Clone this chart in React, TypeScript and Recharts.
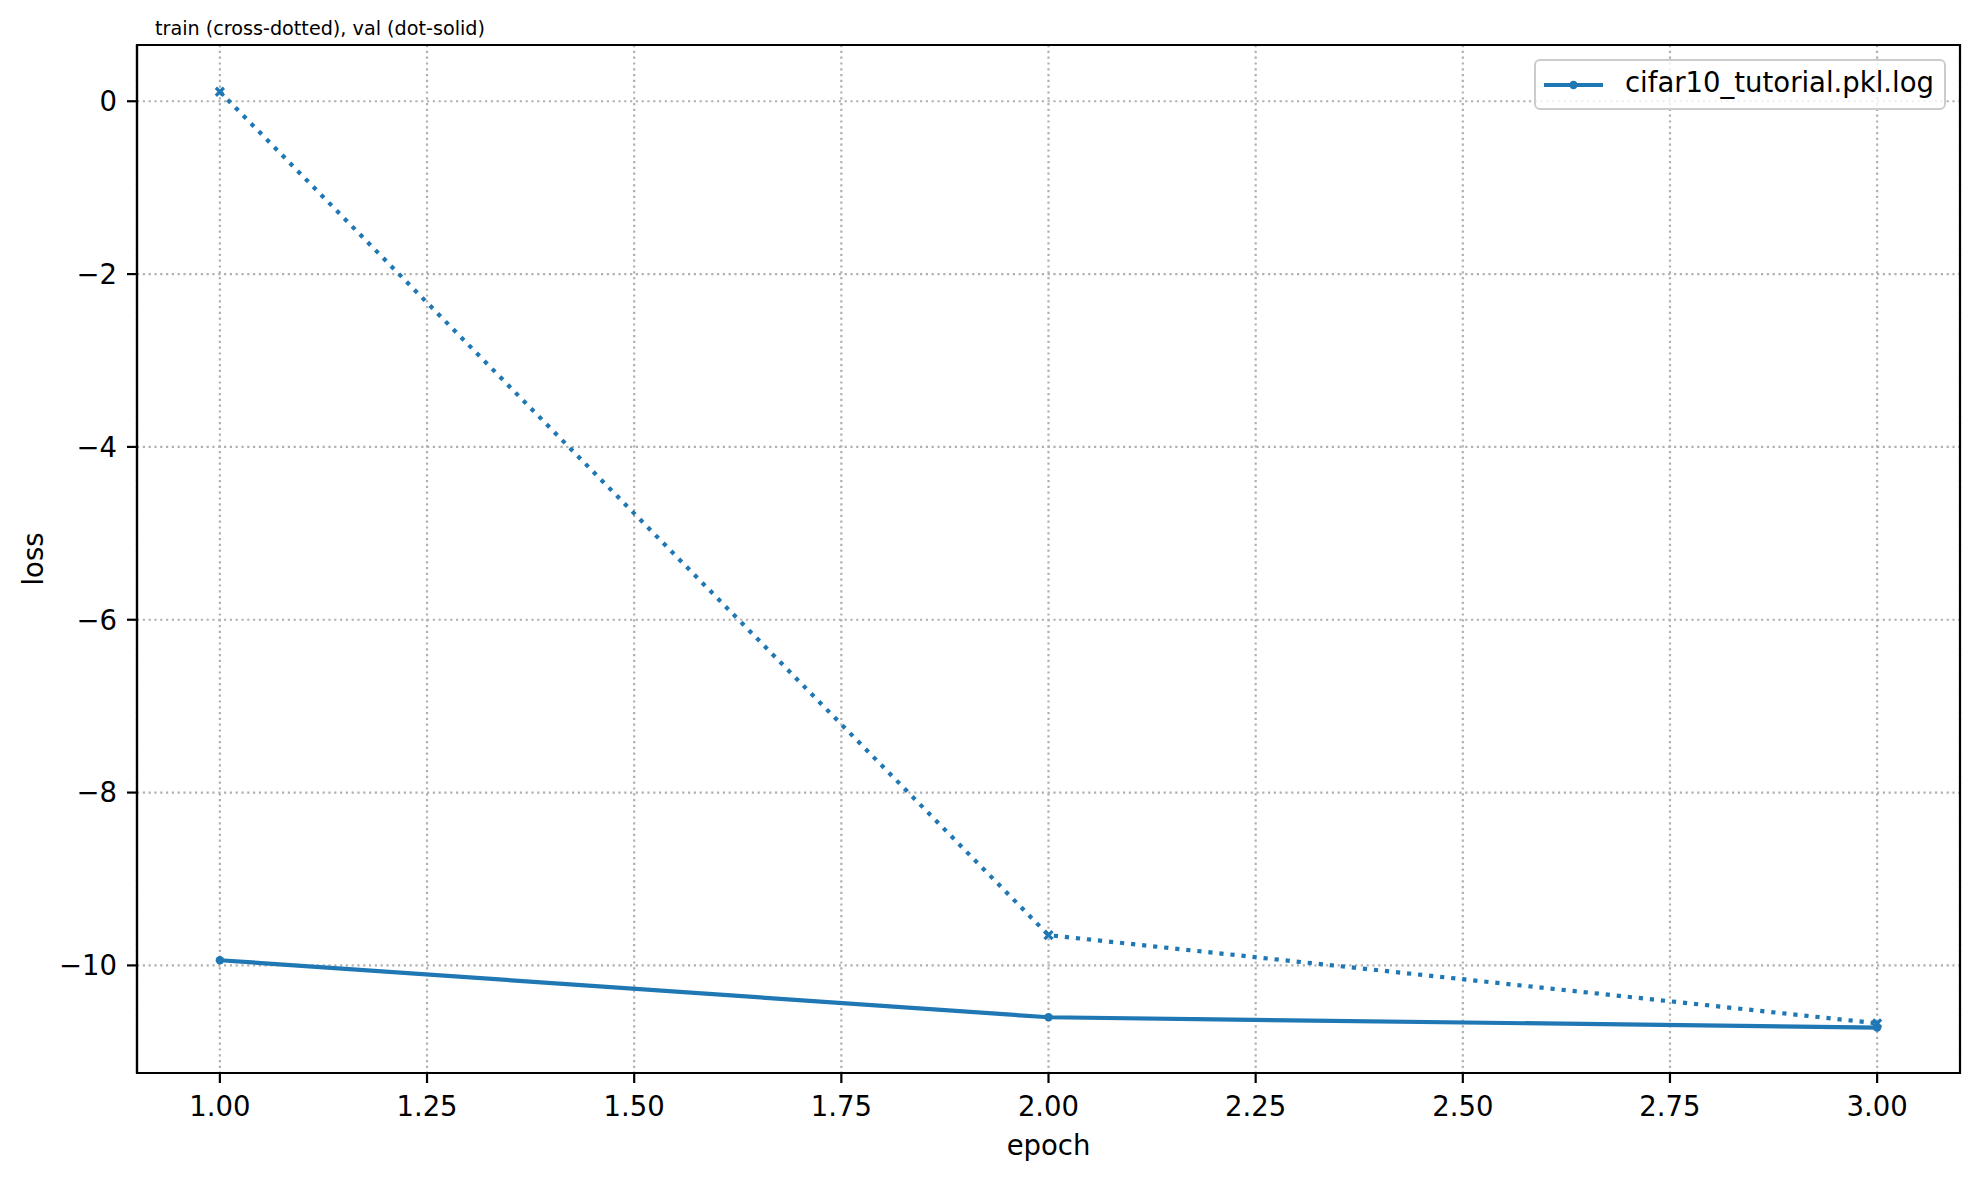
import React from "react";
import { LineChart, Line, XAxis, YAxis, CartesianGrid, ReferenceArea, Legend } from "recharts";

// values
const epochs = [1, 2, 3];
const trainLoss = [0.11, -9.65, -10.67];
const valLoss = [-9.94, -10.6, -10.72];
const xTicks = [1, 1.25, 1.5, 1.75, 2, 2.25, 2.5, 2.75, 3];
const yTicks = [-10, -8, -6, -4, -2, 0];
const runName = "cifar10_tutorial.pkl.log";
const title = "train (cross-dotted), val (dot-solid)";

const data = epochs.map((e, i) => ({ epoch: e, train: trainLoss[i], val: valLoss[i] }));

const BLUE = "#1f77b4";
const FONT = 27.5;
const X_DOMAIN: [number, number] = [0.9, 3.1];
const Y_DOMAIN: [number, number] = [-11.245, 0.651];

const fmtY = (v: number) => (v < 0 ? "\u2212" + Math.abs(v) : String(v));
const fmtX = (v: number) => v.toFixed(2);

const crossDot = (p: any) => {
  const { cx, cy, index } = p;
  const s = 4;
  return (
    <path
      key={"x" + index}
      d={`M${cx - s},${cy - s}L${cx + s},${cy + s}M${cx - s},${cy + s}L${cx + s},${cy - s}`}
      stroke={BLUE}
      strokeWidth={3.2}
    />
  );
};

const roundDot = (p: any) => {
  const { cx, cy, index } = p;
  return <circle key={"d" + index} cx={cx} cy={cy} r={4.2} fill={BLUE} />;
};

const LegendBox = () => (
  <div
    style={{
      width: 408,
      height: 47,
      border: "2px solid #cccccc",
      borderRadius: 6,
      background: "rgba(255,255,255,0.8)",
      display: "flex",
      alignItems: "center",
      fontFamily: "DejaVu Sans",
      fontSize: FONT,
      color: "#000",
    }}
  >
    <svg width={60} height={12} style={{ marginLeft: 8 }}>
      <line x1={0} y1={6} x2={59} y2={6} stroke={BLUE} strokeWidth={4.2} />
      <circle cx={29.5} cy={6} r={4.2} fill={BLUE} />
    </svg>
    <span style={{ marginLeft: 21, lineHeight: 1, position: "relative", top: -2 }}>{runName}</span>
  </div>
);

export default function App() {
  return (
    <div style={{ position: "absolute", left: 0, top: 0, width: 1979, height: 1181, background: "#fff", fontFamily: "DejaVu Sans" }}>
      <LineChart width={1979} height={1181} data={data} margin={{ top: 45, right: 19, bottom: 48, left: 0 }}>
        <CartesianGrid stroke="#b0b0b0" strokeWidth={2.2} strokeDasharray="2.2 3.6" />
        <XAxis
          dataKey="epoch"
          type="number"
          domain={X_DOMAIN}
          allowDataOverflow
          ticks={xTicks}
          tickFormatter={fmtX}
          height={60}
          tick={{ fill: "#000", fontSize: FONT }}
          tickSize={10}
          tickMargin={13}
          tickLine={{ stroke: "#000", strokeWidth: 2.2 }}
          axisLine={{ stroke: "#000", strokeWidth: 2.2 }}
          label={{
            content: () => (
              <g>
                <text x={1048.5} y={1155} textAnchor="middle" fontSize={FONT} fill="#000">
                  epoch
                </text>
                <text x={155} y={35} textAnchor="start" fontSize={19.2} fill="#000">
                  {title}
                </text>
              </g>
            ),
          }}
        />
        <YAxis
          type="number"
          domain={Y_DOMAIN}
          allowDataOverflow
          ticks={yTicks}
          tickFormatter={fmtY}
          width={137}
          tick={{ fill: "#000", fontSize: FONT }}
          tickSize={10}
          tickMargin={10}
          tickLine={{ stroke: "#000", strokeWidth: 2.2 }}
          axisLine={{ stroke: "#000", strokeWidth: 2.2 }}
          label={{
            content: () => (
              <text x={43} y={559} transform="rotate(-90, 43, 559)" textAnchor="middle" fontSize={FONT} fill="#000">
                loss
              </text>
            ),
          }}
        />
        <ReferenceArea
          x1={X_DOMAIN[0]}
          x2={X_DOMAIN[1]}
          y1={Y_DOMAIN[0]}
          y2={Y_DOMAIN[1]}
          fill="none"
          stroke="#000"
          strokeWidth={2.2}
        />
        <Line
          dataKey="train"
          stroke={BLUE}
          strokeWidth={4.2}
          strokeDasharray="4.2 6.9"
          dot={crossDot}
          activeDot={false}
          legendType="none"
          isAnimationActive={false}
        />
        <Line
          dataKey="val"
          name={runName}
          stroke={BLUE}
          strokeWidth={4.2}
          dot={roundDot}
          activeDot={false}
          isAnimationActive={false}
        />
        <Legend
          layout="horizontal"
          verticalAlign="middle"
          align="center"
          content={() => <LegendBox />}
          wrapperStyle={{ position: "absolute", left: 1534, top: 59, width: 412, height: 51 }}
        />
      </LineChart>
    </div>
  );
}
